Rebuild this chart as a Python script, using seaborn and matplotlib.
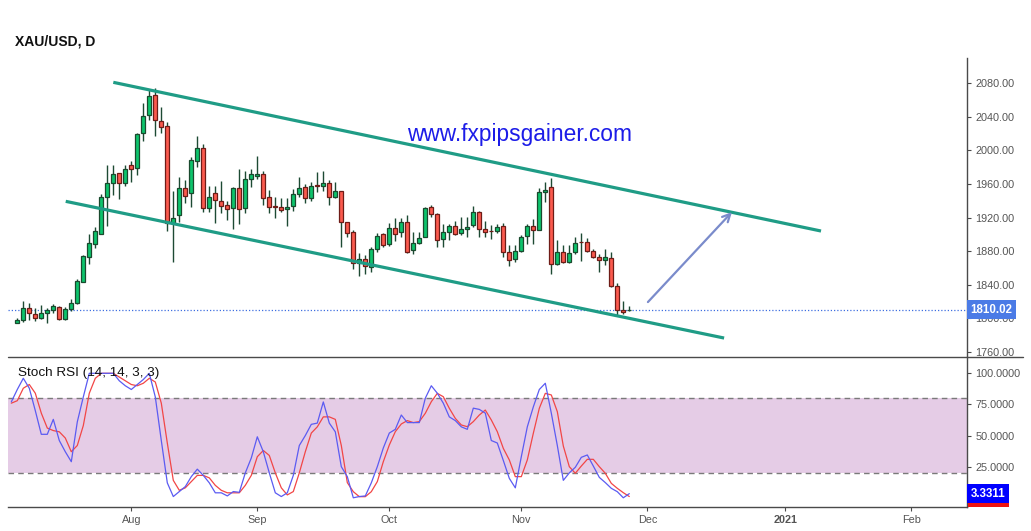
import numpy as np
import pandas as pd
import matplotlib
matplotlib.use('Agg')
import matplotlib.pyplot as plt
import matplotlib.transforms as mtransforms
from matplotlib.lines import Line2D
from matplotlib.patches import Rectangle
import seaborn as sns

sns.set_theme(style='white')
plt.rcParams['font.family'] = ['Liberation Sans', 'DejaVu Sans']

# ---------------- data ----------------
calendar_start = '2020-07-06'
calendar_end = '2021-02-26'
first_candle = '2020-07-07'

opens = [1794.6, 1797.4, 1812.5, 1804.5, 1800.6, 1805.7, 1809.3, 1813.7, 1799.4, 1811.3,
         1817.7, 1843.5, 1873.3, 1888.8, 1900.7, 1944.0, 1960.7, 1972.7, 1961.5, 1982.2,
         1978.6, 2020.3, 2041.8, 2066.0, 2034.6, 2028.7, 1913.0, 1922.6, 1954.8, 1948.8,
         1987.4, 2002.5, 1930.9, 1948.8, 1940.1, 1934.5, 1930.9, 1954.8, 1930.9, 1966.3,
         1969.1, 1971.9, 1944.0, 1933.3, 1932.1, 1930.5, 1933.3, 1947.6, 1956.0, 1942.8,
         1958.8, 1957.2, 1960.7, 1944.8, 1951.2, 1914.2, 1902.3, 1865.4, 1870.1, 1861.4,
         1882.8, 1899.9, 1888.0, 1907.1, 1903.1, 1914.2, 1880.8, 1889.2, 1896.4, 1932.1,
         1923.8, 1894.0, 1902.3, 1909.5, 1901.1, 1905.9, 1910.7, 1926.2, 1905.9, 1903.9,
         1903.5, 1909.5, 1878.5, 1870.1, 1879.7, 1897.5, 1909.5, 1904.7, 1950.0, 1955.9,
         1864.2, 1878.5, 1866.5, 1878.5, 1890.8, 1890.4, 1879.7, 1873.3, 1868.9, 1871.3,
         1837.9, 1809.3, 1809.4]
highs = [1800.2, 1820.4, 1817.7, 1812.5, 1815.3, 1812.5, 1816.5, 1814.9, 1813.7, 1822.8,
         1846.3, 1875.7, 1900.3, 1908.7, 1948.0, 1982.6, 1982.6, 1973.0, 1982.6, 1987.4,
         2021.1, 2056.9, 2072.0, 2074.0, 2051.3, 2033.5, 1951.6, 1967.9, 1964.7, 1992.5,
         2017.2, 2007.2, 1957.6, 1957.6, 1963.1, 1940.1, 1956.0, 1977.4, 1975.8, 1977.4,
         1993.3, 1975.0, 1952.8, 1944.0, 1942.8, 1942.8, 1954.0, 1967.9, 1959.6, 1961.9,
         1974.2, 1975.4, 1964.7, 1962.3, 1952.0, 1915.0, 1905.1, 1878.1, 1875.3, 1884.4,
         1901.9, 1901.1, 1913.0, 1919.0, 1919.0, 1922.6, 1903.1, 1903.1, 1932.1, 1934.5,
         1925.0, 1911.9, 1912.2, 1915.8, 1920.2, 1920.2, 1933.7, 1927.7, 1915.8, 1910.7,
         1912.2, 1913.0, 1886.8, 1886.8, 1898.7, 1912.2, 1917.8, 1954.8, 1961.9, 1966.7,
         1893.2, 1886.8, 1886.8, 1896.4, 1901.1, 1895.2, 1882.0, 1876.1, 1882.0, 1878.5,
         1841.5, 1820.1, 1814.5]
lows = [1794.2, 1795.0, 1798.2, 1797.0, 1799.0, 1794.6, 1805.7, 1797.8, 1797.8, 1808.9,
        1817.0, 1843.5, 1865.0, 1884.0, 1900.7, 1910.3, 1946.8, 1941.7, 1957.6, 1962.7,
        1970.7, 2011.6, 2036.2, 2017.6, 2021.1, 1904.3, 1867.4, 1915.0, 1937.7, 1932.1,
        1979.8, 1927.0, 1927.0, 1913.8, 1925.8, 1916.6, 1905.9, 1912.6, 1925.8, 1956.8,
        1966.3, 1934.9, 1925.0, 1919.0, 1926.9, 1909.5, 1927.7, 1944.0, 1936.9, 1940.1,
        1950.8, 1951.2, 1934.9, 1942.8, 1885.2, 1897.1, 1858.2, 1850.2, 1852.2, 1855.4,
        1879.3, 1884.8, 1886.4, 1892.4, 1896.4, 1877.3, 1876.1, 1888.4, 1896.4, 1921.0,
        1885.2, 1885.2, 1892.8, 1898.7, 1898.7, 1896.4, 1908.3, 1896.4, 1896.4, 1894.0,
        1901.1, 1872.5, 1862.6, 1866.5, 1878.5, 1888.4, 1888.4, 1904.7, 1938.1, 1853.0,
        1863.0, 1865.3, 1865.3, 1876.1, 1867.7, 1878.5, 1871.3, 1855.4, 1863.8, 1836.7,
        1803.0, 1804.6, 1808.9]
closes = [1797.8, 1812.5, 1805.7, 1800.6, 1805.7, 1809.3, 1814.1, 1798.6, 1811.3, 1817.7,
          1844.3, 1874.1, 1889.2, 1903.9, 1944.4, 1960.7, 1971.5, 1961.5, 1977.4, 1978.2,
          2019.6, 2041.0, 2064.9, 2035.8, 2028.3, 1913.0, 1919.0, 1954.8, 1945.2, 1988.2,
          2002.5, 1930.9, 1944.0, 1940.5, 1933.3, 1929.7, 1954.8, 1929.7, 1965.5, 1971.5,
          1971.9, 1943.6, 1932.1, 1932.5, 1929.3, 1932.1, 1947.6, 1954.8, 1942.8, 1957.2,
          1957.2, 1960.7, 1944.4, 1951.2, 1914.6, 1901.1, 1865.4, 1870.1, 1862.2, 1882.0,
          1898.3, 1886.8, 1907.1, 1899.9, 1914.2, 1878.5, 1889.2, 1895.2, 1930.9, 1923.8,
          1892.8, 1902.3, 1909.5, 1899.9, 1905.9, 1908.3, 1926.2, 1905.9, 1902.3, 1903.5,
          1908.3, 1878.5, 1868.9, 1879.7, 1896.4, 1909.5, 1904.7, 1950.0, 1952.4, 1864.2,
          1878.5, 1866.5, 1877.3, 1889.2, 1890.4, 1879.7, 1872.5, 1868.9, 1872.5, 1837.9,
          1809.3, 1806.9, 1810.02]

# Stoch RSI (14, 14, 3, 3), from 2020-07-06
stoch_k = [77, 87, 96, 88, 70, 51, 51, 63, 46, 37, 29, 61, 81, 100, 100, 100, 100, 100, 94, 90,
           87, 91, 95, 100, 81, 46, 12, 1, 5, 9, 17, 23, 18, 12, 4, 4, 1.5, 5, 4.4, 20,
           32, 49, 37, 20, 4, 1, 4, 18, 42, 50, 59, 60, 77, 60, 53, 25, 17, 0, 1, 1.5,
           12, 25, 40, 52, 55, 66.5, 60.4, 60.4, 60.4, 80, 90, 84, 76, 65, 62, 57, 55, 72, 71, 68,
           46, 44, 30, 15.6, 8, 33, 57, 73, 87, 92, 68, 42, 14, 20, 24.5, 32.5, 34.4, 25.5, 16.4, 12.2,
           7.6, 4.9, 0, 3.3311]
stoch_d = [76, 78, 88, 91, 84, 68, 56, 54, 53, 48, 37, 42, 58, 84, 96, 100, 100, 100, 97, 94,
           91, 90, 92, 96, 93, 76, 44, 14, 6, 8, 13, 18, 18, 16, 10, 6, 4, 4, 4, 10,
           18, 33, 38, 34, 20, 8, 2.3, 5, 20, 37, 52, 57, 65, 65, 63, 42, 12.2, 4.9, 0.9, 0.9,
           4.9, 13, 29, 42.4, 53.1, 59.3, 62, 60.4, 61.2, 67.9, 77.2, 83.9, 81.2, 71.9, 63.8, 58.5, 57.1, 61.2, 66.5, 70.5,
           62.5, 53.1, 39.7, 30.4, 17, 17, 30.4, 51.8, 71.9, 83.9, 82.6, 69.2, 41.6, 25, 19.7, 25.5, 30.9, 30.9, 25, 19.7,
           11.6, 7.6, 4.1, 1.0]

# drawn channel (bar index, price) and arrow
upper_channel_x = [17.0, 134.95]
upper_channel_y = [2081.2, 1903.9]
lower_channel_x = [9.07, 118.8]
lower_channel_y = [1939.3, 1776.3]
arrow_from = (106.1, 1819.2)
arrow_to = (120.1, 1926.5)

price_ticks = [1760, 1800, 1840, 1880, 1920, 1960, 2000, 2040, 2080]
stoch_ticks = [25, 50, 75, 100]
band_low, band_high = 20, 80

# ---------------- frame ----------------
dates = pd.bdate_range(calendar_start, calendar_end)
xs = np.arange(len(dates))
c0 = dates.get_loc(pd.Timestamp(first_candle))
cx = xs[c0:c0 + len(opens)]
sx = xs[:len(stoch_k)]

W, H = 1031, 531
fig = plt.figure(figsize=(W / 100, H / 100), dpi=100)
L, R = 8, 967.3
ax = fig.add_axes([L / W, (H - 357) / H, (R - L) / W, (357 - 58) / H])
ax2 = fig.add_axes([L / W, (H - 507) / H, (R - L) / W, (507 - 357) / H], sharex=ax)

gray = '#555555'
axis_col = '#4a4a4a'
tick_fs = 7.8

o = np.array(opens); c = np.array(closes); hi = np.array(highs); lo = np.array(lows)
up = c >= o
body_lo = np.minimum(o, c)
body_h = np.maximum(np.abs(c - o), 0.4)

ax.vlines(cx, lo, hi, color='#1d4a33', lw=1.0, zorder=2)
ax.bar(cx[up], body_h[up], bottom=body_lo[up], width=0.7, color='#0dc46c',
       edgecolor='#1a4a2e', linewidth=0.9, zorder=3)
ax.bar(cx[~up], body_h[~up], bottom=body_lo[~up], width=0.7, color='#fb5a4e',
       edgecolor='#6e1c17', linewidth=0.9, zorder=3)

teal = '#1f9c86'
ax.plot(upper_channel_x, upper_channel_y, color=teal, lw=2.3, solid_capstyle='butt', zorder=4)
ax.plot(lower_channel_x, lower_channel_y, color=teal, lw=2.3, solid_capstyle='butt', zorder=4)
ax.annotate('', xy=arrow_to, xytext=arrow_from,
            arrowprops=dict(arrowstyle='->', color='#7a8bcb', lw=1.6, mutation_scale=14,
                            shrinkA=0, shrinkB=0), zorder=5)

last = closes[-1]
ax.axhline(last, color='#3f6fe0', ls=(0, (1, 1.6)), lw=0.9, zorder=1)

ax.set_ylim(1753.7, 2110.2)
ax.set_xlim(-0.55, 159.33)
ax.yaxis.tick_right()
ax.set_yticks(price_ticks)
ax.set_yticklabels([f'{v:.2f}' for v in price_ticks])
ax.tick_params(axis='y', right=True, length=3, width=0.8, color=axis_col,
               labelsize=tick_fs, labelcolor=gray, pad=3)
ax.tick_params(axis='x', bottom=False, labelbottom=False)
for s in ['top', 'left', 'bottom']:
    ax.spines[s].set_visible(False)
ax.spines['right'].set_color(axis_col)
ax.spines['right'].set_linewidth(1.0)

box_kw = dict(boxstyle='square,pad=0.32', ec='none')
blend = mtransforms.blended_transform_factory(ax.transAxes, ax.transData)
ax.text(1.0035, last, f'{last:.2f}', transform=blend, ha='left', va='center', color='white',
        fontsize=8.3, fontweight='bold', zorder=20, clip_on=False,
        bbox=dict(fc='#4b7be6', **box_kw))

# ---------------- stoch panel ----------------
ax2.axhspan(band_low, band_high, color='#e5cce6', lw=0, zorder=0)
for lvl in (band_low, band_high):
    ax2.axhline(lvl, color='#7a7a7a', ls=(0, (4, 3)), lw=1.0, zorder=1)
sns.lineplot(x=sx, y=stoch_d, ax=ax2, color='#f24646', lw=0.9, zorder=3)
sns.lineplot(x=sx, y=stoch_k, ax=ax2, color='#5b5bf2', lw=0.9, zorder=4)
ax2.set_ylim(-7.4, 113.1)
ax2.set_ylabel('')
ax2.yaxis.tick_right()
ax2.set_yticks(stoch_ticks)
ax2.set_yticklabels([f'{v:.4f}' for v in stoch_ticks])
ax2.tick_params(axis='y', right=True, length=3, width=0.8, color=axis_col,
                labelsize=tick_fs, labelcolor=gray, pad=3)
for s in ['top', 'left']:
    ax2.spines[s].set_visible(False)
for s in ['right', 'bottom']:
    ax2.spines[s].set_color(axis_col)
    ax2.spines[s].set_linewidth(1.0)

month_pos = [i for i in range(1, len(dates)) if dates[i].month != dates[i - 1].month]
month_lab = [('%d' % dates[i].year) if dates[i].month == 1 else dates[i].strftime('%b')
             for i in month_pos]
ax2.set_xticks(month_pos)
ax2.set_xticklabels(month_lab)
ax2.tick_params(axis='x', bottom=True, length=3, width=0.8, color=axis_col,
                labelsize=tick_fs, labelcolor=gray, pad=3)
for t in ax2.get_xticklabels():
    if t.get_text().isdigit():
        t.set_fontweight('bold')

blend2 = mtransforms.blended_transform_factory(ax2.transAxes, ax2.transData)
# %D value marker, mostly hidden behind the %K label
lbl_h = 12.0
ax2.add_patch(Rectangle((1.0008, stoch_d[-1] - lbl_h * 0.72), 0.0425, lbl_h, transform=blend2,
                        facecolor='#ee1111', edgecolor='none', clip_on=False, zorder=19))
ax2.text(1.0035, stoch_k[-1], f'{stoch_k[-1]:.4f}', transform=blend2, ha='left', va='center',
         color='white', fontsize=8.3, fontweight='bold', zorder=20, clip_on=False,
         bbox=dict(fc='#0000ff', **box_kw))

ax2.text(0.0105, 0.893, 'Stoch RSI (14, 14, 3, 3)', transform=ax2.transAxes,
         ha='left', va='center', fontsize=9.7, color='#111111', zorder=6)

# separator between panels
fig.add_artist(Line2D([L / W, 1023 / W], [(H - 357) / H] * 2, color=axis_col, lw=1.0))

fig.text(15 / W, 1 - 41 / H, 'XAU/USD, D', fontsize=10, fontweight='bold',
         color='#111111', ha='left', va='center')
fig.text(520 / W, 1 - 135 / H, 'www.fxpipsgainer.com', fontsize=16.4, color='#1c1ce8',
         ha='center', va='center')

fig.savefig('out.png', dpi=100)
